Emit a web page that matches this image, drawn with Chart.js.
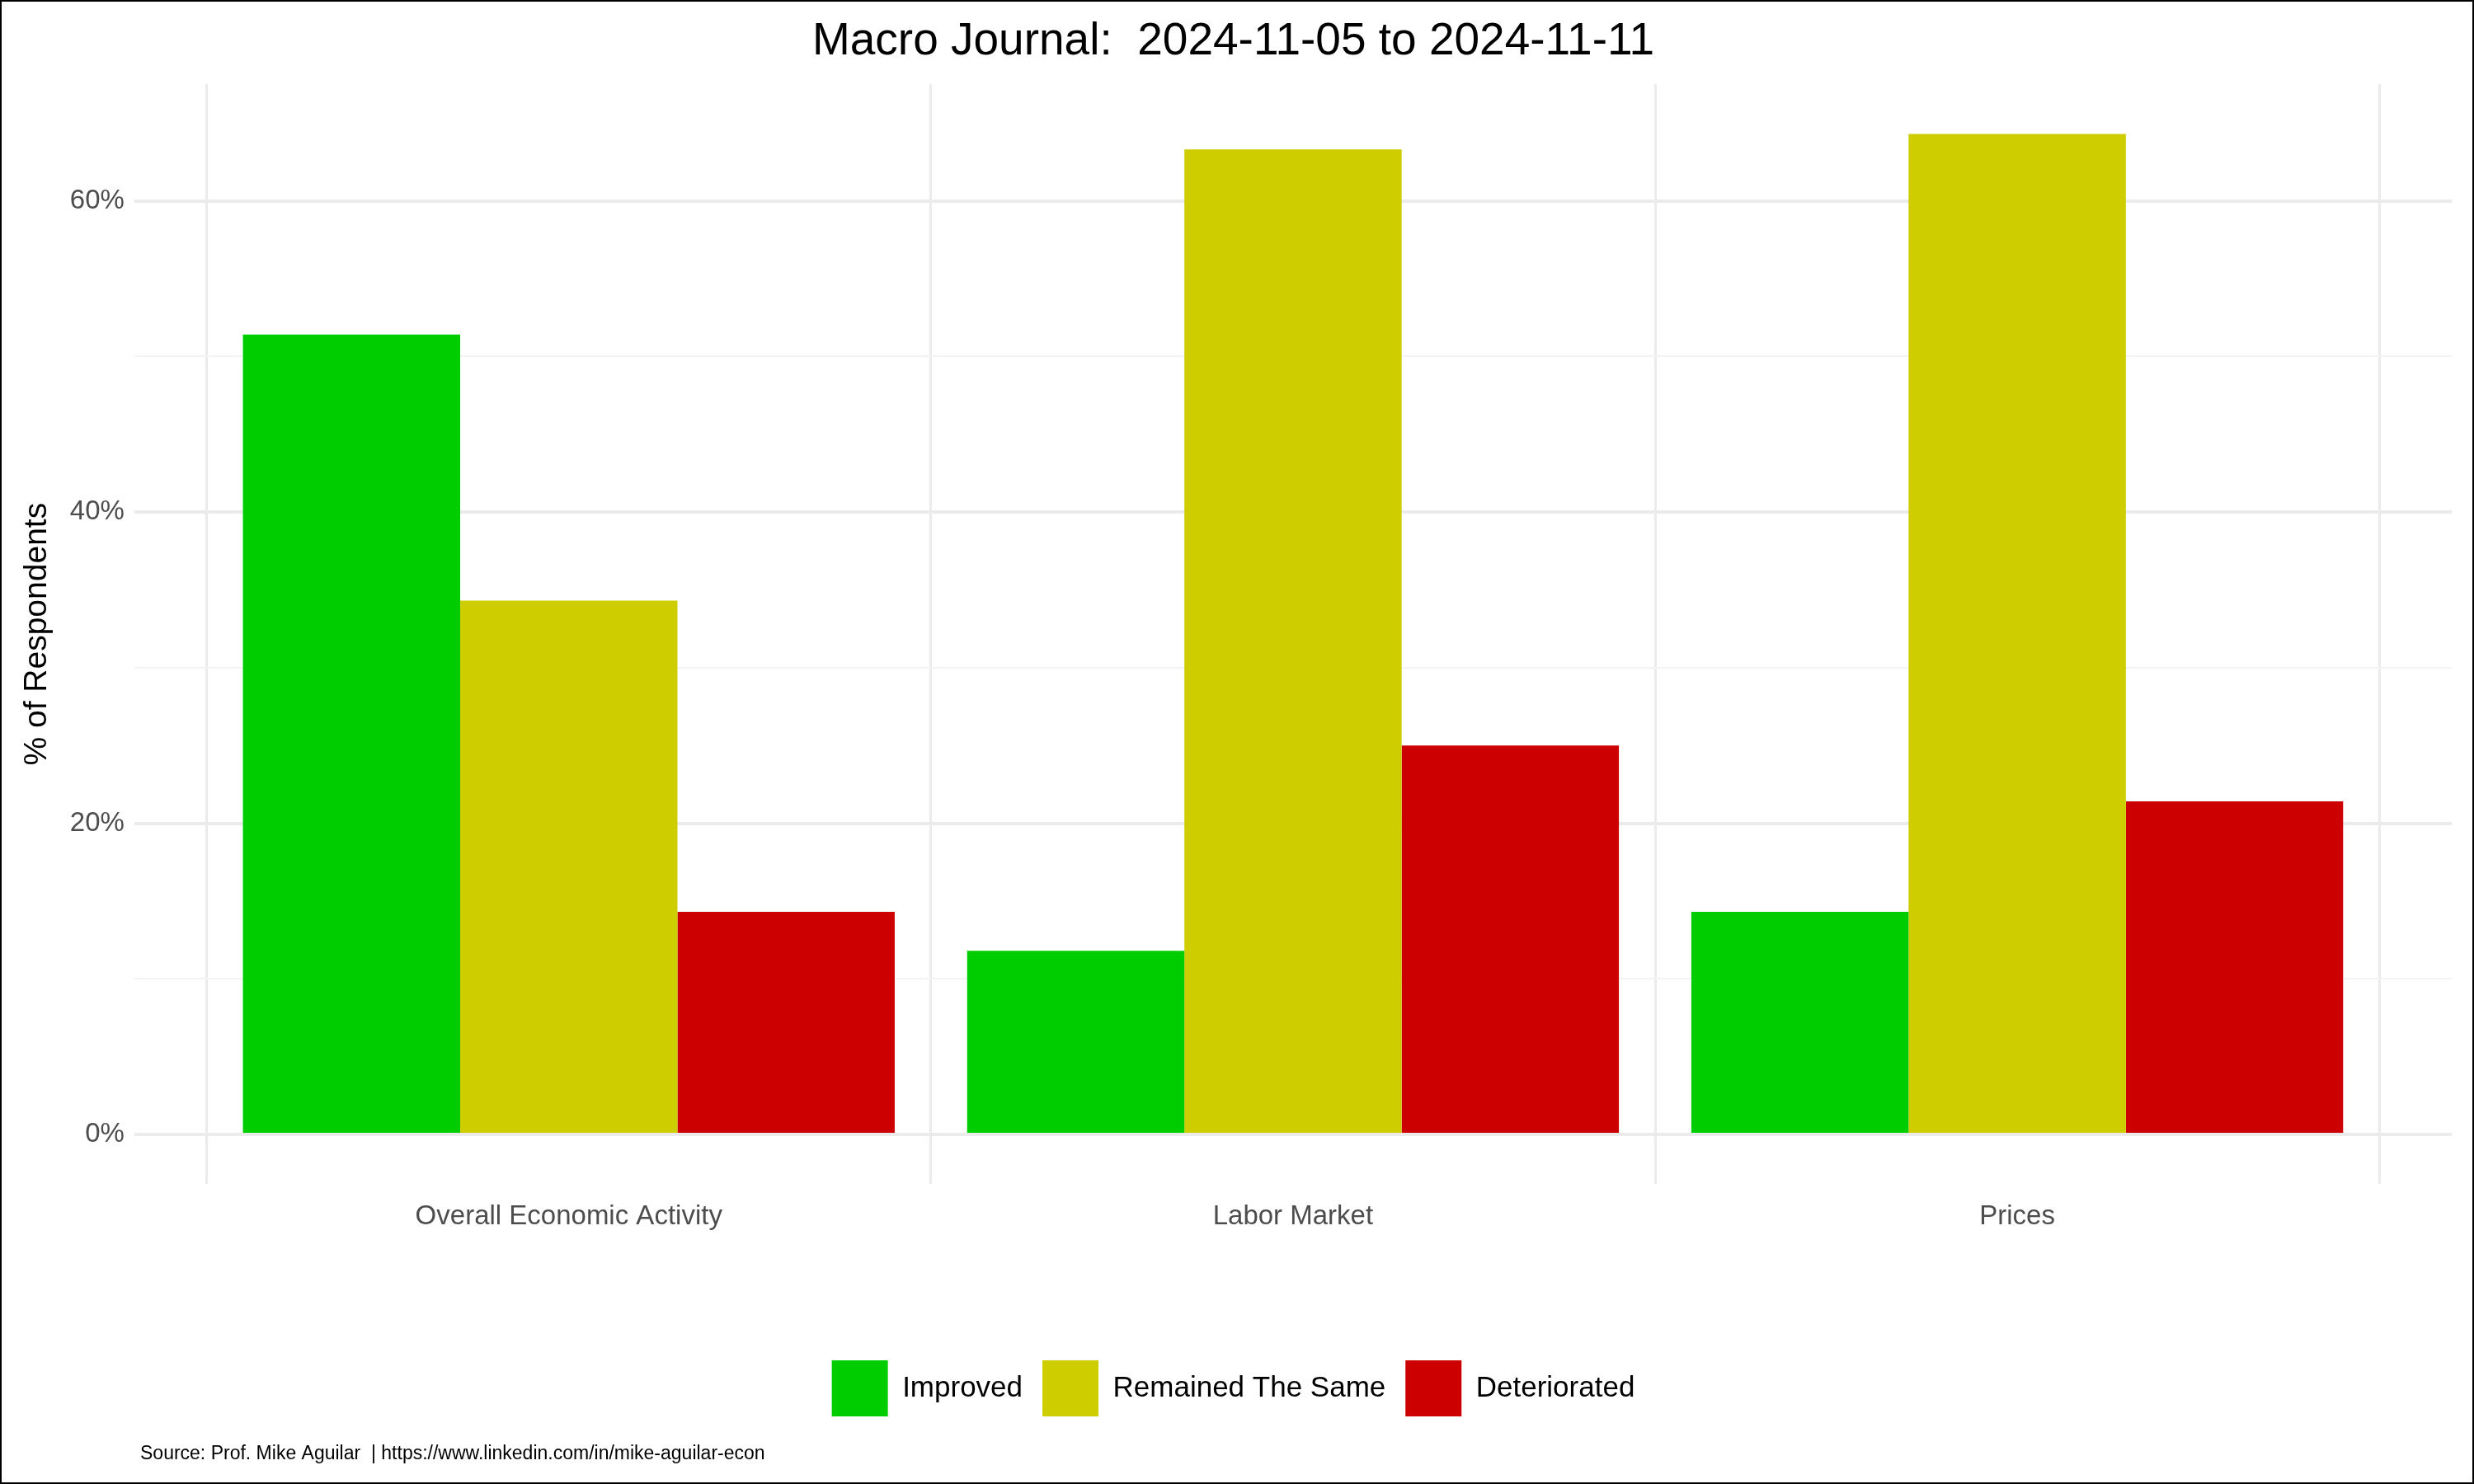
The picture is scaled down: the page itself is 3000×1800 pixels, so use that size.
<!DOCTYPE html>
<html><head><meta charset="utf-8">
<script src="https://cdn.jsdelivr.net/npm/chart.js@4"></script>
<style>
html,body{margin:0;padding:0;background:#fff;}
#wrap{position:absolute;left:0;top:0;width:2996px;height:1796px;border:2px solid #000;}
</style></head><body>
<div id="wrap"><canvas id="c" width="2996" height="1796"></canvas></div>
<script>
const categories = ["Overall Economic Activity", "Labor Market", "Prices"];
const seriesNames = ["Improved", "Remained The Same", "Deteriorated"];
const improved = [51.4, 11.8, 14.3];
const remained = [34.3, 63.3, 64.3];
const deteriorated = [14.3, 25.0, 21.4];
const yTicks = [0, 10, 20, 30, 40, 50, 60];
const sourceText = "Source: Prof. Mike Aguilar  | https://www.linkedin.com/in/mike-aguilar-econ";
const colors = ["#00CD00", "#CDCD00", "#CD0000"];
const F = "Liberation Sans, Arial, sans-serif";

const sourcePlugin = {
  id: 'source',
  afterDraw(chart) {
    const ctx = chart.ctx;
    ctx.save();
    ctx.font = "23px " + F;
    ctx.fillStyle = "#000";
    ctx.textBaseline = "middle";
    ctx.fillText(sourceText, 168, 1762);
    ctx.restore();
  }
};

new Chart(document.getElementById('c'), {
  type: 'bar',
  data: {
    datasets: [improved, remained, deteriorated].map((d, i) => ({
      label: seriesNames[i], data: d.map((v, j) => ({ x: j, y: v })), backgroundColor: colors[i],
      categoryPercentage: 0.9, barPercentage: 1.0, borderWidth: 0
    }))
  },
  plugins: [sourcePlugin],
  options: {
    responsive: false, devicePixelRatio: 1, animation: false,
    layout: { padding: { left: 16, right: 25, top: 8, bottom: 70 } },
    plugins: {
      title: { display: true, text: "Macro Journal:  2024-11-05 to 2024-11-11", color: "#000",
        font: { family: F, size: 55, weight: 'normal' }, padding: { top: 8, bottom: 18 } },
      legend: { position: 'bottom', labels: { boxWidth: 68, boxHeight: 68, padding: 24,
        color: "#000", font: { family: F, size: 35 } } },
      tooltip: { enabled: false }
    },
    scales: {
      x: {
        type: 'linear', min: -0.6, max: 2.6, offset: false,
        afterBuildTicks: s => { s.ticks = categories.map((c, i) => ({ value: i })); },
        afterFit: s => { s.height += 110; },
        grid: { color: "#EBEBEB", lineWidth: 3, drawTicks: false },
        border: { display: false },
        ticks: { color: "#4D4D4D", font: { family: F, size: 33 }, padding: 20,
          callback: v => categories[v] }
      },
      y: {
        min: -3.2, max: 67.5,
        afterBuildTicks: s => { s.ticks = yTicks.map(v => ({ value: v })); },
        title: { display: true, text: "% of Respondents", color: "#000", font: { family: F, size: 39 } },
        grid: { color: ctx => (ctx.tick && ctx.tick.value % 20 === 0) ? "#EBEBEB" : "#F3F3F3",
          lineWidth: ctx => (ctx.tick && ctx.tick.value % 20 === 0) ? 4 : 2, drawTicks: false },
        border: { display: false },
        ticks: { color: "#4D4D4D", font: { family: F, size: 33 }, padding: 12,
          callback: v => v % 20 === 0 ? v + "%" : "" }
      }
    }
  }
});
</script></body></html>
